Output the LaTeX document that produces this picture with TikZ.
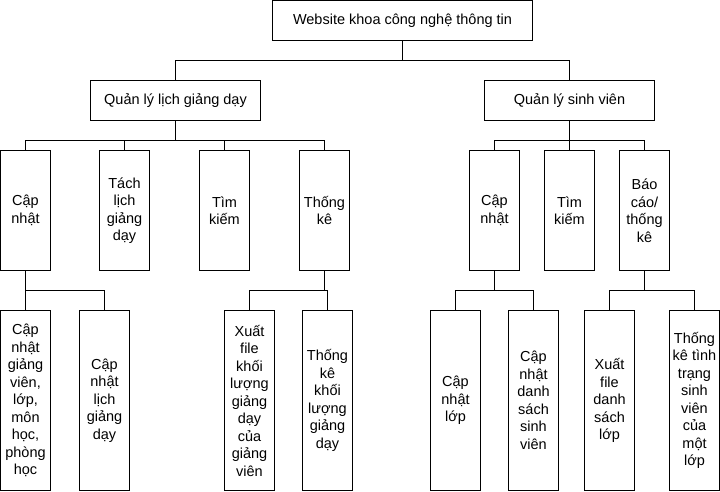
\documentclass[tikz,border=0pt]{standalone}
\usepackage{fontspec}
\setmainfont{Liberation Sans}
\begin{document}
\begin{tikzpicture}[x=1pt,y=-1pt,
  box/.style={draw=black, line width=1pt, inner sep=0pt, outer sep=0pt,
    anchor=north west, align=center,
    font=\fontsize{14.5}{17.5}\selectfont},
  wide/.style={box, minimum width=#1, minimum height=40pt},
  tall/.style={box, minimum width=50pt, minimum height=#1},
  link/.style={draw=black, line width=1pt}]
\useasboundingbox (0,0) rectangle (720,491);

% root and the two main functions
\node[wide=260pt] (root) at (272.5,0.5) {Website khoa công nghệ thông tin};
\node[wide=170pt] (qlg) at (90.5,80.5) {Quản lý lịch giảng dạy};
\node[wide=170pt] (qls) at (484.5,80.5) {Quản lý sinh viên};

% second level: teaching schedule
\node[tall=120pt] (a1) at (0.5,150.5) {Cập\\nhật};
\node[tall=120pt] (a2) at (99.5,150.5) {Tách\\lịch\\giảng\\dạy};
\node[tall=120pt] (a3) at (199.5,150.5) {Tìm\\kiếm};
\node[tall=120pt] (a4) at (299.5,150.5) {Thống\\kê};

% second level: students
\node[tall=120pt] (b1) at (469.5,150.5) {Cập\\nhật};
\node[tall=120pt] (b2) at (544.5,150.5) {Tìm\\kiếm};
\node[tall=120pt] (b3) at (619.5,150.5) {Báo\\cáo/\\thống\\kê};

% third level
\node[tall=180pt] (c1) at (0.5,310.5) {Cập\\nhật\\giảng\\viên,\\lớp,\\môn\\học,\\phòng\\học};
\node[tall=180pt] (c2) at (79.5,310.5) {Cập\\nhật\\lịch\\giảng\\dạy};
\node[tall=180pt] (c3) at (224.5,310.5) {Xuất\\file\\khối\\lượng\\giảng\\dạy\\của\\giảng\\viên};
\node[tall=180pt] (c4) at (302.5,310.5) {Thống\\kê\\khối\\lượng\\giảng\\dạy};
\node[tall=180pt] (d1) at (430.5,310.5) {Cập\\nhật\\lớp};
\node[tall=180pt] (d2) at (508.5,310.5) {Cập\\nhật\\danh\\sách\\sinh\\viên};
\node[tall=180pt] (d3) at (584.5,310.5) {Xuất\\file\\danh\\sách\\lớp};
\node[tall=180pt] (d4) at (669.5,310.5) {Thống\\kê tình\\trạng\\sinh\\viên\\của\\một\\lớp};

% tree connectors
\foreach \p/\c in {root/qlg, root/qls,
    qlg/a1, qlg/a2, qlg/a3, qlg/a4,
    qls/b1, qls/b2, qls/b3,
    a1/c1, a1/c2, a4/c3, a4/c4,
    b1/d1, b1/d2, b3/d3, b3/d4}
  \draw[link] (\p.south) -- ++(0,20) -| (\c.north);
\end{tikzpicture}
\end{document}
